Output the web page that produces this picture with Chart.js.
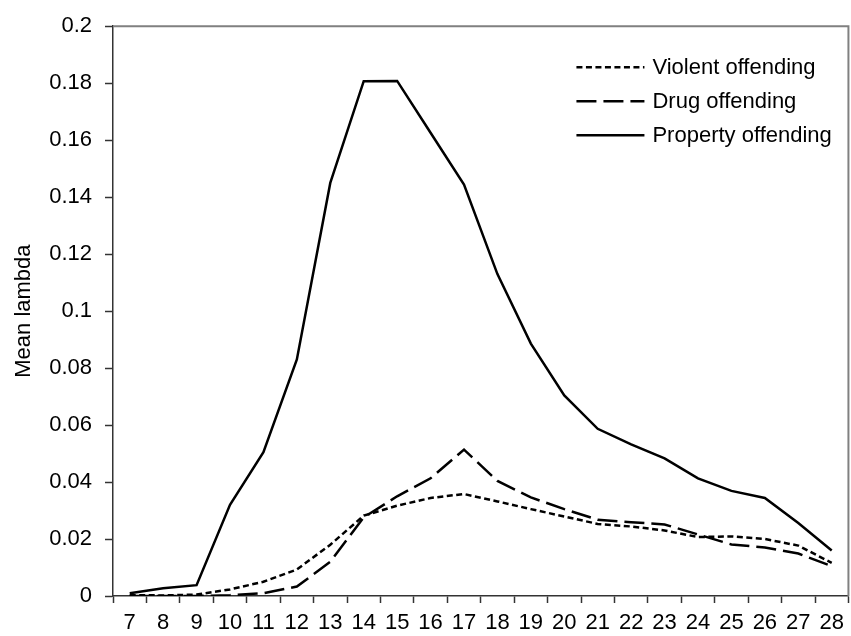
<!DOCTYPE html>
<html>
<head>
<meta charset="utf-8">
<script src="https://cdn.jsdelivr.net/npm/chart.js@4/dist/chart.umd.min.js"></script>
<style>
  html, body { margin: 0; padding: 0; background: #fff; }
  #wrap { width: 851px; height: 636px; }
</style>
</head>
<body>
<div id="wrap"><canvas id="chart" width="851" height="636"></canvas></div>
<script>
// Age in years
const ages = ['7','8','9','10','11','12','13','14','15','16','17','18','19','20','21','22','23','24','25','26','27','28'];

// Mean lambda by age, per offence type
const violentOffending = [0.0003, 0.0002, 0.0005, 0.0023, 0.005, 0.0093, 0.018, 0.0282, 0.0317, 0.0344, 0.0358,
                          0.0332, 0.0305, 0.0279, 0.0253, 0.0244, 0.023, 0.0207, 0.0209, 0.02, 0.0177, 0.0116];
const drugOffending = [0, 0, 0, 0.0003, 0.001, 0.0033, 0.012, 0.0276, 0.035, 0.0413, 0.0514,
                       0.0404, 0.0346, 0.0305, 0.0268, 0.0259, 0.0251, 0.0216, 0.0181, 0.017, 0.0149, 0.0105];
const propertyOffending = [0.001, 0.0027, 0.0038, 0.032, 0.0505, 0.083, 0.145, 0.1807, 0.1808, 0.1626, 0.1444,
                           0.113, 0.0886, 0.0704, 0.0587, 0.0532, 0.0483, 0.0413, 0.0369, 0.0344, 0.0256, 0.016];

const seriesNames = ['Violent offending', 'Drug offending', 'Property offending'];
const yTitle = 'Mean lambda';

const FONT = "'Liberation Sans', Arial, Helvetica, sans-serif";
const FONT_SIZE = 22;

// Grey frame along the top and right of the plot area
const plotFrame = {
  id: 'plotFrame',
  afterDatasetsDraw(chart) {
    const { ctx, chartArea: a } = chart;
    ctx.save();
    ctx.strokeStyle = '#808080';
    ctx.lineWidth = 2;
    ctx.beginPath();
    ctx.moveTo(a.left, a.top);
    ctx.lineTo(a.right, a.top);
    ctx.lineTo(a.right, a.bottom);
    ctx.stroke();
    ctx.restore();
  }
};

// Legend with line samples drawn in each dataset's own dash style
const lineLegend = {
  id: 'lineLegend',
  afterDraw(chart, args, opts) {
    const { ctx, chartArea: a } = chart;
    const x0 = a.right - opts.fromRight;
    ctx.save();
    ctx.font = `${opts.fontSize}px ${FONT}`;
    ctx.fillStyle = '#000';
    ctx.textBaseline = 'middle';
    ctx.textAlign = 'left';
    chart.data.datasets.forEach((ds, i) => {
      const y = a.top + opts.firstRow + i * opts.rowGap;
      ctx.strokeStyle = ds.borderColor;
      ctx.lineWidth = ds.borderWidth;
      ctx.setLineDash(ds.borderDash || []);
      ctx.beginPath();
      ctx.moveTo(x0, y);
      ctx.lineTo(x0 + opts.sampleLength, y);
      ctx.stroke();
      ctx.setLineDash([]);
      ctx.fillText(ds.label, x0 + opts.sampleLength + opts.textGap, y + 1);
    });
    ctx.restore();
  }
};

const makeSet = (label, data, dash) => ({
  label, data,
  borderColor: '#000',
  backgroundColor: '#000',
  borderWidth: 2.5,
  borderDash: dash,
  pointRadius: 0,
  pointHoverRadius: 0,
  tension: 0,
  fill: false
});

new Chart(document.getElementById('chart'), {
  type: 'line',
  data: {
    labels: ages,
    datasets: [
      makeSet(seriesNames[0], violentOffending, [6, 3.5]),
      makeSet(seriesNames[1], drugOffending, [20, 7]),
      makeSet(seriesNames[2], propertyOffending, [])
    ]
  },
  options: {
    responsive: false,
    animation: false,
    devicePixelRatio: 1,
    layout: { padding: { top: 22, right: 2, left: 0, bottom: 0 } },
    plugins: {
      legend: { display: false },
      tooltip: { enabled: false },
      lineLegend: { fromRight: 272, firstRow: 41, rowGap: 34, sampleLength: 68, textGap: 8, fontSize: FONT_SIZE }
    },
    scales: {
      x: {
        offset: true,
        grid: {
          offset: true,
          drawOnChartArea: false,
          drawTicks: true,
          tickLength: 7,
          tickColor: '#333',
          tickWidth: 1.5
        },
        border: { color: '#333', width: 1.5 },
        ticks: {
          color: '#000',
          font: { family: FONT, size: FONT_SIZE },
          padding: 7,
          maxRotation: 0,
          autoSkip: false
        },
        afterFit(scale) { scale.height = 40; }
      },
      y: {
        min: 0,
        max: 0.2,
        grid: {
          drawOnChartArea: false,
          drawTicks: true,
          tickLength: 8,
          tickColor: '#333',
          tickWidth: 1.5
        },
        border: { color: '#333', width: 1.5 },
        ticks: {
          stepSize: 0.02,
          color: '#000',
          font: { family: FONT, size: FONT_SIZE },
          padding: 13,
          callback: (v) => String(parseFloat(v.toFixed(2)))
        },
        title: {
          display: true,
          text: yTitle,
          color: '#000',
          font: { family: FONT, size: FONT_SIZE },
          padding: { top: 11, bottom: 0 }
        },
        afterFit(scale) { scale.width = 113; }
      }
    }
  },
  plugins: [plotFrame, lineLegend]
});
</script>
</body>
</html>
